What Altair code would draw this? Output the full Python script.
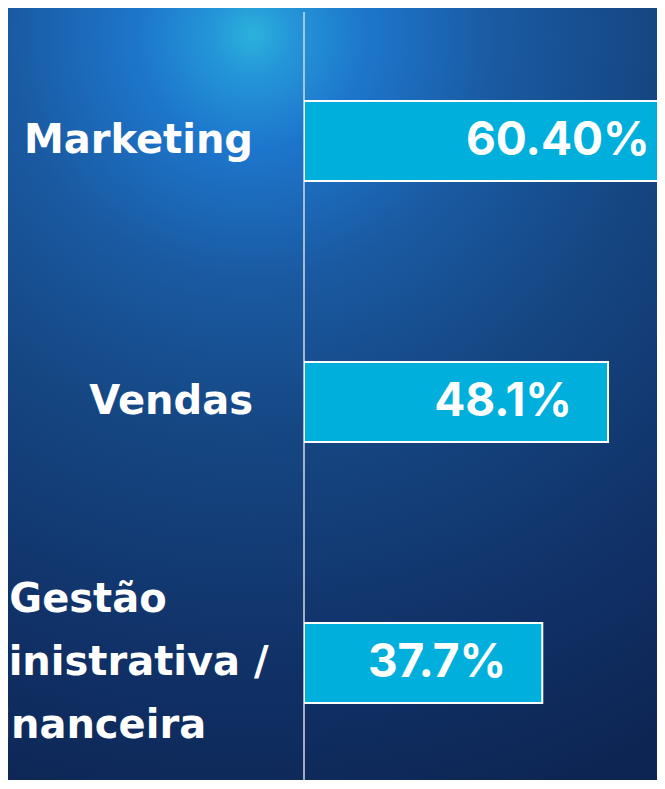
import altair as alt
import pandas as pd

categories = ["Marketing", "Vendas", "Gestão\nAdministrativa /\nFinanceira"]
values = [60.4, 48.1, 37.7]
value_labels = ["60.40%", "48.1%", "37.7%"]

df = pd.DataFrame({"cat": categories, "value": values, "label": value_labels})
one = pd.DataFrame({"k": [0]})

W_PLOT = 353
H = 772
PAD_LEFT = 296
LABEL_FONT = "DejaVu Sans"
VALUE_FONT = "Inter"

y_enc = alt.Y(
    "cat:N",
    sort=categories,
    scale=alt.Scale(paddingInner=0.6935, paddingOuter=0.3257, align=0.547),
    axis=None,
)
x_scale = alt.Scale(domain=[0, 55.85], nice=False, zero=True)

bg_gradient = {
    "gradient": "radial",
    "x1": 0.396, "y1": 0.035, "r1": 0.0,
    "x2": 0.396, "y2": 0.035, "r2": 1.05,
    "stops": [
        {"offset": 0.0, "color": "#2cb2dc"},
        {"offset": 0.05, "color": "#2496d8"},
        {"offset": 0.14, "color": "#1d76cc"},
        {"offset": 0.3, "color": "#1a5aa2"},
        {"offset": 0.5, "color": "#154682"},
        {"offset": 0.75, "color": "#11336a"},
        {"offset": 1.0, "color": "#0d2553"},
    ],
}

bg = alt.Chart(one).mark_rect(color=bg_gradient, clip=False).encode(
    x=alt.value(-PAD_LEFT), x2=alt.value(W_PLOT), y=alt.value(0), y2=alt.value(H)
)

axis_line = alt.Chart(one).mark_rule(color="#d4d9e0", strokeWidth=1.5).encode(
    x=alt.value(0), y=alt.value(4), y2=alt.value(H)
)

base = alt.Chart(df)

bars = base.mark_bar(color="#00afdb", stroke="white", strokeWidth=2, clip=True).encode(
    x=alt.X("value:Q", scale=x_scale, axis=None),
    y=y_enc,
)

value_text = base.mark_text(
    align="right", baseline="middle", dx=-36, font=VALUE_FONT, fontSize=46,
    fontWeight="bold", color="white",
).encode(
    x=alt.X("value:Q", scale=x_scale, axis=None),
    y=y_enc,
    text="label:N",
)

single_labels = base.transform_filter("indexof(datum.cat, '\\n') < 0").mark_text(
    align="right", baseline="middle", font=LABEL_FONT, fontSize=40, fontWeight="bold",
    color="white",
).encode(x=alt.value(-51), y=y_enc, text="cat:N")

multi_labels = base.transform_filter("indexof(datum.cat, '\\n') >= 0").mark_text(
    align="center", baseline="middle", font=LABEL_FONT, fontSize=40, fontWeight="bold",
    color="white", lineBreak="\n", lineHeight=63, dy=-63,
).encode(x=alt.value(-216), y=y_enc, text="cat:N")

chart = alt.layer(bg, axis_line, bars, value_text, single_labels, multi_labels).properties(
    width=W_PLOT,
    height=H,
    padding={"left": PAD_LEFT, "top": 0, "right": 0, "bottom": 0},
    autosize=alt.AutoSizeParams(type="none"),
).configure_view(stroke=None).configure(background="#0e2a5a")

chart.save("out.html", embed_options={"renderer": "svg", "actions": False})
